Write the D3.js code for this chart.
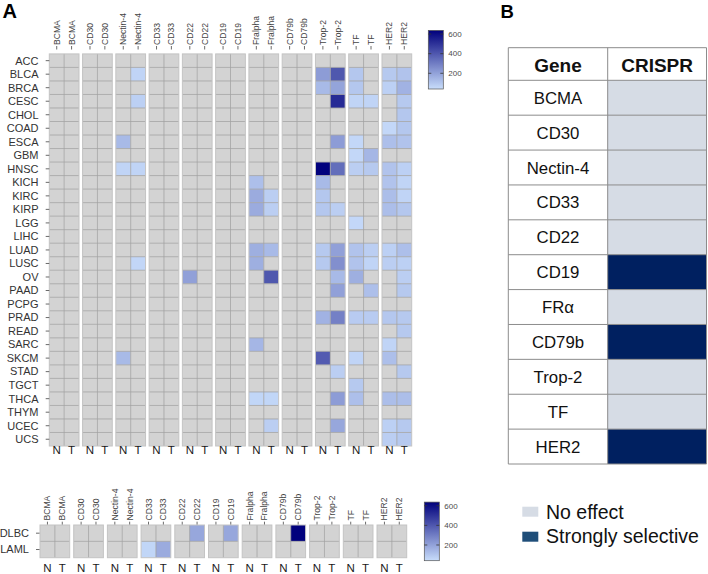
<!DOCTYPE html>
<html>
<head>
<meta charset="utf-8">
<script src="https://cdn.jsdelivr.net/npm/d3@7"></script>
<style>
  body { margin: 0; background: #fff; }
  svg { display: block; font-family: "Liberation Sans", Arial, sans-serif; }
</style>
</head>
<body>
<svg id="chart" width="708" height="574"></svg>
<script>
// ---- data ----
const genes = ["BCMA", "CD30", "Nectin-4", "CD33", "CD22", "CD19", "Fralpha", "CD79b", "Trop-2", "TF", "HER2"];
const tissues = ["N", "T"];
const tumorsTop = ["ACC", "BLCA", "BRCA", "CESC", "CHOL", "COAD", "ESCA", "GBM", "HNSC", "KICH",
  "KIRC", "KIRP", "LGG", "LIHC", "LUAD", "LUSC", "OV", "PAAD", "PCPG", "PRAD", "READ",
  "SARC", "SKCM", "STAD", "TGCT", "THCA", "THYM", "UCEC", "UCS"];
const tumorsBottom = ["DLBC", "LAML"];

// [tumor, N, T] ; cells not listed (or 0) have no value and are drawn grey
const nectin4Top = [["BLCA", 0, 65], ["CESC", 0, 75], ["ESCA", 135, 0], ["HNSC", 65, 65],
  ["LUSC", 0, 58], ["SKCM", 135, 0]];
const cd22Top = [["OV", 205, 0]];
const fralphaTop = [["KICH", 120, 0], ["KIRC", 175, 80], ["KIRP", 175, 80], ["LUAD", 165, 135],
  ["LUSC", 165, 0], ["OV", 0, 400], ["SARC", 145, 0], ["THCA", 60, 60], ["UCEC", 0, 80]];
const trop2Top = [["BLCA", 215, 400], ["BRCA", 135, 195], ["CESC", 0, 520], ["ESCA", 0, 215],
  ["HNSC", 634, 340], ["KICH", 135, 0], ["KIRC", 100, 0], ["KIRP", 100, 80], ["LUAD", 95, 205],
  ["LUSC", 95, 250], ["OV", 0, 135], ["PAAD", 0, 205], ["PRAD", 155, 290], ["SKCM", 390, 0],
  ["STAD", 0, 80], ["THCA", 0, 215], ["UCEC", 0, 185]];
const tfTop = [["BLCA", 100, 0], ["BRCA", 100, 0], ["CESC", 65, 65], ["ESCA", 55, 0],
  ["GBM", 55, 145], ["HNSC", 80, 95], ["LGG", 55, 0], ["LUAD", 110, 80], ["LUSC", 110, 65],
  ["OV", 165, 0], ["PAAD", 0, 120], ["PRAD", 88, 88], ["SKCM", 65, 0], ["TGCT", 95, 0],
  ["THCA", 120, 0]];
const her2Top = [["BLCA", 95, 110], ["BRCA", 75, 155], ["CESC", 0, 95], ["CHOL", 0, 100],
  ["COAD", 55, 100], ["ESCA", 120, 110], ["HNSC", 110, 75], ["KICH", 110, 65], ["KIRC", 125, 65],
  ["KIRP", 125, 100], ["LUAD", 75, 120], ["LUSC", 80, 75], ["OV", 0, 80], ["PAAD", 0, 95],
  ["PRAD", 100, 95], ["READ", 0, 95], ["SARC", 65, 0], ["SKCM", 120, 0], ["STAD", 0, 95],
  ["THCA", 125, 125], ["UCEC", 75, 95], ["UCS", 80, 95]];

const cd33Bottom = [["LAML", 60, 175]];
const cd22Bottom = [["DLBC", 0, 185]];
const cd19Bottom = [["DLBC", 0, 185]];
const cd79bBottom = [["DLBC", 0, 634]];

const fillRange = [40, 637];
const legendTicks = [200, 400, 600];

const crisprGenes = ["BCMA", "CD30", "Nectin-4", "CD33", "CD22", "CD19", "FRα", "CD79b", "Trop-2", "TF", "HER2"];
const crisprResult = ["No effect", "No effect", "No effect", "No effect", "No effect", "Strongly selective",
  "No effect", "Strongly selective", "No effect", "No effect", "Strongly selective"];
const crisprCategories = ["No effect", "Strongly selective"];

// ---- setup ----
const svg = d3.select("#chart");
const color = d3.scaleLinear().domain(fillRange).range(["#c8ddfb", "#00007c"]).interpolate(d3.interpolateRgb);

function buildCells(tumors, series) {
  const out = [];
  tumors.forEach(t => genes.forEach(g => tissues.forEach((s, i) => {
    const row = (series[g] || []).find(r => r[0] === t);
    const v = row ? row[i + 1] : 0;
    out.push({ tumor: t, gene: g, tissue: s, value: v > 0 ? v : null });
  })));
  return out;
}

function drawHeatmap(cfg) {
  const cells = buildCells(cfg.tumors, cfg.series);
  const g = svg.append("g");
  const x = d3.scaleBand().domain(genes).range(cfg.xRange).paddingInner(cfg.pad);
  const xi = d3.scaleBand().domain(tissues).range([0, x.bandwidth()]);
  const y = d3.scaleBand().domain(cfg.tumors).range(cfg.yRange);
  const [y0, y1] = cfg.yRange;

  const panels = g.selectAll("g.panel").data(genes).join("g")
    .attr("class", "panel")
    .attr("transform", d => `translate(${x(d)},0)`);

  panels.selectAll("rect.cell").data(gene => cells.filter(c => c.gene === gene)).join("rect")
    .attr("class", "cell")
    .attr("x", d => xi(d.tissue))
    .attr("y", d => y(d.tumor))
    .attr("width", xi.bandwidth())
    .attr("height", y.bandwidth())
    .attr("fill", d => d.value == null ? "#d3d3d3" : color(d.value));

  // grid lines inside each panel
  panels.selectAll("line.h").data(cfg.tumors.slice(1)).join("line")
    .attr("class", "h")
    .attr("x1", 0).attr("x2", x.bandwidth())
    .attr("y1", d => y(d)).attr("y2", d => y(d))
    .attr("stroke", "#a2a2a2").attr("stroke-width", 0.8);
  panels.append("line")
    .attr("x1", xi("T")).attr("x2", xi("T"))
    .attr("y1", y0).attr("y2", y1)
    .attr("stroke", "#a2a2a2").attr("stroke-width", 0.8);
  panels.append("rect")
    .attr("x", 0).attr("y", y0)
    .attr("width", x.bandwidth()).attr("height", y1 - y0)
    .attr("fill", "none").attr("stroke", "#c4c4c4").attr("stroke-width", 1);

  // column labels (gene names, rotated) and ticks
  panels.selectAll("text.col").data(tissues).join("text")
    .attr("class", "col")
    .attr("transform", t => `translate(${xi(t) + xi.bandwidth() / 2},${cfg.colTextEnd}) rotate(-90)`)
    .attr("dy", "0.35em")
    .attr("font-size", 8.6)
    .attr("fill", "#444")
    .text(function () { return d3.select(this.parentNode).datum(); });
  panels.selectAll("line.ctick").data(tissues).join("line")
    .attr("class", "ctick")
    .attr("x1", t => xi(t) + xi.bandwidth() / 2).attr("x2", t => xi(t) + xi.bandwidth() / 2)
    .attr("y1", cfg.colTick[0]).attr("y2", cfg.colTick[1])
    .attr("stroke", "#444").attr("stroke-width", 0.8);

  // N / T labels
  panels.selectAll("text.nt").data(tissues).join("text")
    .attr("class", "nt")
    .attr("x", t => xi(t) + xi.bandwidth() / 2)
    .attr("y", cfg.ntY)
    .attr("text-anchor", "middle")
    .attr("font-size", 11.5)
    .attr("fill", "#1a1a1a")
    .text(t => t);

  // row labels and ticks
  g.selectAll("text.row").data(cfg.tumors).join("text")
    .attr("class", "row")
    .attr("x", cfg.rowTextEnd)
    .attr("y", d => y(d) + y.bandwidth() / 2)
    .attr("dy", "0.35em")
    .attr("text-anchor", "end")
    .attr("font-size", 11)
    .attr("fill", "#333")
    .text(d => d);
  g.selectAll("line.rtick").data(cfg.tumors).join("line")
    .attr("class", "rtick")
    .attr("x1", cfg.rowTick[0]).attr("x2", cfg.rowTick[1])
    .attr("y1", d => y(d) + y.bandwidth() / 2).attr("y2", d => y(d) + y.bandwidth() / 2)
    .attr("stroke", "#444").attr("stroke-width", 0.8);
}

function drawColorbar(id, x0, yRange) {
  const ys = d3.scaleLinear().domain(fillRange).range(yRange);
  const grad = svg.append("defs").append("linearGradient")
    .attr("id", id).attr("x1", 0).attr("x2", 0).attr("y1", 1).attr("y2", 0);
  d3.range(0, 1.0001, 0.1).forEach(t => {
    grad.append("stop").attr("offset", t)
      .attr("stop-color", color(fillRange[0] + t * (fillRange[1] - fillRange[0])));
  });
  const w = 15;
  svg.append("rect")
    .attr("x", x0).attr("y", ys(fillRange[1]))
    .attr("width", w).attr("height", ys(fillRange[0]) - ys(fillRange[1]))
    .attr("fill", `url(#${id})`).attr("stroke", "#555").attr("stroke-width", 0.7);
  legendTicks.forEach(v => {
    svg.append("line").attr("x1", x0).attr("x2", x0 + 3).attr("y1", ys(v)).attr("y2", ys(v))
      .attr("stroke", "#333").attr("stroke-width", 0.8);
    svg.append("line").attr("x1", x0 + w - 3).attr("x2", x0 + w).attr("y1", ys(v)).attr("y2", ys(v))
      .attr("stroke", "#333").attr("stroke-width", 0.8);
    svg.append("text").attr("x", x0 + w + 5).attr("y", ys(v)).attr("dy", "0.35em")
      .attr("font-size", 8).attr("fill", "#4d4d4d").text(v);
  });
}

// ---- panel A ----
drawHeatmap({
  tumors: tumorsTop,
  series: { "Nectin-4": nectin4Top, "CD22": cd22Top, "Fralpha": fralphaTop, "Trop-2": trop2Top, "TF": tfTop, "HER2": her2Top },
  xRange: [49.3, 411.7], pad: 0.107,
  yRange: [53.9, 446],
  colTextEnd: 45, colTick: [46, 49.5],
  rowTextEnd: 38.5, rowTick: [45.7, 49.3],
  ntY: 454
});
drawColorbar("cbTop", 428.3, [89, 30.4]);

drawHeatmap({
  tumors: tumorsBottom,
  series: { "CD33": cd33Bottom, "CD22": cd22Bottom, "CD19": cd19Bottom, "CD79b": cd79bBottom },
  xRange: [40, 406.7], pad: 0.119,
  yRange: [525, 557.7],
  colTextEnd: 520.5, colTick: [521.7, 524.5],
  rowTextEnd: 29, rowTick: [36, 39.5],
  ntY: 571.7
});
drawColorbar("cbBottom", 424.3, [560.7, 502.1]);

svg.append("text").attr("x", 2.5).attr("y", 18.3).attr("font-size", 20).attr("font-weight", "bold").text("A");

// ---- panel B ----
svg.append("text").attr("x", 500.5).attr("y", 18).attr("font-size", 18.5).attr("font-weight", "bold").text("B");

const tblX = [508.3, 607.7, 706.5];
const headTop = 47.7, headBottom = 80.3;
const rowY = d3.scaleBand().domain(crisprGenes).range([headBottom, 464]);
const fillB = d3.scaleOrdinal().domain(crisprCategories).range(["#d6dce5", "#002060"]);
const legendB = d3.scaleOrdinal().domain(crisprCategories).range(["#d6dce5", "#1f4e79"]);
const tb = svg.append("g");

tb.append("rect").attr("x", tblX[0]).attr("y", headTop).attr("width", tblX[2] - tblX[0]).attr("height", headBottom - headTop)
  .attr("fill", "#fff");
tb.selectAll("rect.res").data(crisprGenes).join("rect")
  .attr("x", tblX[1]).attr("y", d => rowY(d))
  .attr("width", tblX[2] - tblX[1]).attr("height", rowY.bandwidth())
  .attr("fill", (d, i) => fillB(crisprResult[i]));

const hLines = [headTop, headBottom].concat(crisprGenes.map(d => rowY(d) + rowY.bandwidth()));
tb.selectAll("line.hl").data(hLines).join("line")
  .attr("x1", tblX[0]).attr("x2", tblX[2]).attr("y1", d => d).attr("y2", d => d)
  .attr("stroke", "#8c8c8c").attr("stroke-width", 1);
tb.selectAll("line.vl").data(tblX).join("line")
  .attr("x1", d => d).attr("x2", d => d).attr("y1", headTop).attr("y2", 464)
  .attr("stroke", "#8c8c8c").attr("stroke-width", 1);

tb.selectAll("text.head").data(["Gene", "CRISPR"]).join("text")
  .attr("x", (d, i) => (tblX[i] + tblX[i + 1]) / 2).attr("y", 71.7)
  .attr("text-anchor", "middle").attr("font-size", 19).attr("font-weight", "bold").attr("fill", "#111")
  .text(d => d);
tb.selectAll("text.gene").data(crisprGenes).join("text")
  .attr("x", (tblX[0] + tblX[1]) / 2).attr("y", d => rowY(d) + rowY.bandwidth() / 2 + 6)
  .attr("text-anchor", "middle").attr("font-size", 16.8).attr("fill", "#111")
  .text(d => d);

const lg = svg.append("g");
lg.selectAll("rect").data(crisprCategories).join("rect")
  .attr("x", 522.3).attr("y", (d, i) => 506.7 + i * 25)
  .attr("width", 16).attr("height", 10)
  .attr("fill", d => legendB(d));
lg.selectAll("text").data(crisprCategories).join("text")
  .attr("x", 546).attr("y", (d, i) => 519.3 + i * 23.7)
  .attr("font-size", 19.5).attr("fill", "#111")
  .text(d => d);
</script>
</body>
</html>
